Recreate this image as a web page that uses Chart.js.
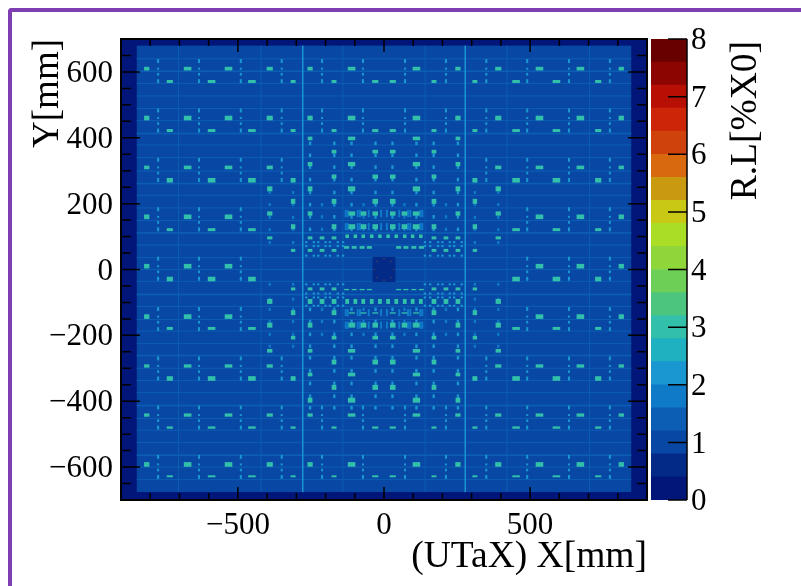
<!DOCTYPE html>
<html>
<head>
<meta charset="utf-8">
<script src="https://cdn.jsdelivr.net/npm/chart.js@4/dist/chart.umd.min.js"></script>
<style>
  html, body { margin: 0; padding: 0; background: #fff; overflow: hidden; }
  #frame { position: absolute; left: 8px; top: 8px; width: 800px; height: 600px; box-sizing: border-box;
           border-left: 4px solid #7d3fb2; border-top: 4px solid #7d3fb2; border-top-left-radius: 4px; }
  #mapWrap { position: absolute; left: 0; top: 0; width: 660px; height: 586px; }
  #barWrap { position: absolute; left: 651px; top: 0; width: 150px; height: 586px; }
  canvas { filter: blur(0.2px); }
</style>
</head>
<body>
<div id="frame"></div>
<div id="mapWrap"><canvas id="mapChart"></canvas></div>
<div id="barWrap"><canvas id="barChart"></canvas></div>
<script>
// colour bands of the z axis, bottom to top, 0.4 %X0 each
const zBandColors = ['#011678', '#042a88', '#0848a4', '#0c5eb4', '#0f7ac8', '#1a97d0', '#1fb1c0', '#33c0aa',
  '#4cc67e', '#6dcf55', '#8fd63a', '#aadd26', '#c8c815', '#c99a10', '#d8690f', '#d0420b',
  '#cc2508', '#b80f05', '#8c0500', '#690000'];
const zBandStep = 0.4;
const zTicks = [0, 1, 2, 3, 4, 5, 6, 7, 8];

const xMinorTicks = [-800, -700, -600, -400, -300, -200, -100, 100, 200, 300, 400, 600, 700, 800];
const xMajorTicks = [-500, 0, 500];
const yMinorTicks = [-650, -550, -500, -450, -350, -300, -250, -150, -100, -50, 50, 100, 150, 250, 300, 350, 450, 500, 550, 650];
const yMajorTicks = [-600, -400, -200, 0, 200, 400, 600];

// support lines, mm
const vLineFaintX = [703, 421, 141];
const vLineBrightX = [278];
const hLineFaintY = [640, 565, 527, 489, 452, 378, 340, 299, 225, 187, 149, 74, 36, 0, -36, -112, -152, -187, -225, -300, -337, -374, -452, -488, -525, -600, -638];
const hLineBrightY = [602, 413, 261, 111, -76, -261, -413, -564];

// module rows: upper rows and their lower partner rows
const upperRowY = [610, 460, 310, 160, 10, -143, -293, -442, -592];
const lowerRowY = [571, 422, 271, 121, -29, -179, -331, -480, -628];
const rowColumnCount = [6, 6, 4, 3, 3, 3, 4, 6, 6];
const upperRowH = [11, 14, 11, 14, 14, 14, 10, 10, 14];
const lowerRowH = [9, 9, 14, 9, 14, 9, 14, 7, 6];
const upperColX = [812, 672, 532, 391, 253, 111];
const upperColW = [18, 26, 26, 21, 18, 26];
const lowerColX = [733, 590, 452, 311, 171, 30];
const lowerColW = [21, 26, 26, 17, 17, 21];
const dashColX = [773, 633, 490, 350, 212, 72];
const dashOffsetY = [23, 0, -17, -38];
const dashH = [12, 6, 8, 12];

// central region rows, cells at +x and -x
const centreRowY = [398, 358, 320, 282, 245, 207, 170, 130, 96, 58, -59, -97, -131, -169, -207, -247, -281, -319, -358, -397];
const centreRowH = [11, 11, 13, 13, 15, 15, 13, 15, 9, 9, 9, 15, 15, 15, 11, 11, 15, 11, 15, 15];
const centreRowX = [[253, 111], [171, 30], [253, 111], [171, 30], [391, 253, 111], [311, 171, 30],
  [391, 253, 110, 70, 30], [311, 171, 110, 70, 30], [391, 253, 212, 171], [311, 253, 212, 171],
  [311, 253, 212, 171], [391, 253, 212, 171], [311, 171], [391, 253, 110, 70, 30], [311, 171, 30], [391, 253, 111],
  [171, 30], [253, 111], [171, 30], [253, 111]];
const centreColX = [391, 311, 253, 212, 171, 111, 110, 70, 30];
const centreColW = [18, 15, 16, 16, 16, 25, 23, 19, 19];

// rows hugging the beam hole
const beamRowUpperX = [126, 98, 71, 42, 14];
const beamThinX = [128, 102, 75, 50];
const beamThinLowerX = [110, 70, 30];

// small stubs under the central cells
const stubInnerY = [383, 347, 311, 273, 234, 197, 160, 122, -121, -158, -197, -233, -268, -308, -346, -385, -420];
const stubInnerX = [253, 170, 111, 29];
const stubExtraY = [197, 160, 122, -121, -158, -197];
const stubExtraX = [212, 70];
const stubOuterY = [234, 197, 158, 121, 82, -45, -90, -121, -158, -197, -233];
const stubOuterX = [391, 311];
const tallBarY = [170, 130, -131, -169];
const tallBarX = [131, 124, 90, 82, 52, 10];
const blipY = [83, 71, 42, -45, -73, -85, -110];
const blipX = [266, 240, 225, 200, 185, 158, 140];

// faint ring inside the beam hole
const ringX = [0, 24, 33, 24, 0, -24, -33, -24];
const ringY = [33, 24, 0, -24, -33, -24, 0, 24];

function mirrored(list, x, y, w, h, z) {
  list.push({ x: x, y: y, w: w, h: h, z: z });
  list.push({ x: -x, y: y, w: w, h: h, z: z });
}

const backgroundCells = [
  { x: 0, y: 0, w: 1800, h: 1400, z: 0.2 },
  { x: 0, y: 2, w: 1692, h: 1356, z: 1.0 }
];
const holeCells = [{ x: 0, y: 0, w: 78, h: 76, z: 0.6 }];

const lineCells = [];
vLineFaintX.forEach(x => mirrored(lineCells, x, 2, 3, 1356, 1.4));
hLineFaintY.forEach(y => lineCells.push({ x: 0, y: y, w: 1692, h: 3, z: 1.4 }));
hLineBrightY.forEach(y => lineCells.push({ x: 0, y: y, w: 1692, h: 5, z: 1.4 }));
vLineBrightX.forEach(x => mirrored(lineCells, x, 2, 5, 1356, 2.2));

const stubCells = [];
upperRowY.forEach((y, r) => {
  for (let c = 0; c < rowColumnCount[r]; c++) {
    dashOffsetY.forEach((d, i) => mirrored(stubCells, dashColX[c], y + d, 7, dashH[i], 2.2));
  }
});
stubInnerY.forEach(y => stubInnerX.forEach(x => mirrored(stubCells, x, y, 8, 11, 2.1)));
stubExtraY.forEach(y => stubExtraX.forEach(x => mirrored(stubCells, x, y, 8, 10, 1.7)));
stubOuterY.forEach(y => stubOuterX.forEach(x => mirrored(stubCells, x, y, 8, 9, 1.8)));
tallBarY.forEach(y => tallBarX.forEach(x => mirrored(stubCells, x, y, 7, 22, 1.9)));
blipY.forEach(y => blipX.forEach(x => mirrored(stubCells, x, y, 8, 6, 2.0)));

const moduleCells = [];
upperRowY.forEach((y, r) => {
  for (let c = 0; c < rowColumnCount[r]; c++) {
    mirrored(moduleCells, upperColX[c], y, upperColW[c], upperRowH[r], 3.0);
    mirrored(moduleCells, lowerColX[c], lowerRowY[r], lowerColW[c], lowerRowH[r], 3.0);
  }
});
centreRowY.forEach((y, r) => {
  centreRowX[r].forEach(x => {
    mirrored(moduleCells, x, y, centreColW[centreColX.indexOf(x)], centreRowH[r], 3.0);
  });
});
beamRowUpperX.forEach(x => {
  mirrored(moduleCells, x, 101, 12, 11, 3.0);
  mirrored(moduleCells, x, -97, 13, 15, 3.0);
});
beamThinX.forEach(x => {
  mirrored(moduleCells, x, 67, 17, 8, 3.0);
  mirrored(moduleCells, x, -61, 17, 4, 3.0);
});
beamThinLowerX.forEach(x => mirrored(moduleCells, x, -132, 20, 4, 3.0));

const ringCells = ringX.map((x, i) => ({ x: x, y: ringY[i], w: 5, h: 4, z: 5.8 }));

function minusLabel(v) {
  return String(v).replace('-', '\u2212');
}

// draws the dataset's cells through the chart scales
const cellPlugin = {
  id: 'cellPlugin',
  beforeDatasetDraw(chart, args) {
    const ds = chart.data.datasets[args.index];
    const ctx = chart.ctx;
    const xs = chart.scales.x, ys = chart.scales.y;
    ctx.save();
    ctx.globalAlpha = ds.cellAlpha || 1;
    ds.data.forEach(c => {
      const x0 = xs.getPixelForValue(c.x - c.w / 2), x1 = xs.getPixelForValue(c.x + c.w / 2);
      const y0 = ys.getPixelForValue(c.y + c.h / 2), y1 = ys.getPixelForValue(c.y - c.h / 2);
      ctx.fillStyle = zBandColors[Math.floor(c.z / zBandStep)];
      ctx.fillRect(x0, y0, x1 - x0, y1 - y0);
    });
    ctx.restore();
  }
};

// ROOT style inward ticks and frame
const framePlugin = {
  id: 'framePlugin',
  afterDraw(chart) {
    const ctx = chart.ctx, a = chart.chartArea;
    const xs = chart.scales.x, ys = chart.scales.y;
    ctx.save();
    ctx.strokeStyle = '#000';
    ctx.lineWidth = 1.5;
    ctx.beginPath();
    function xTick(v, len) {
      const p = xs.getPixelForValue(v);
      ctx.moveTo(p, a.top); ctx.lineTo(p, a.top + len);
      ctx.moveTo(p, a.bottom); ctx.lineTo(p, a.bottom - len);
    }
    function yTick(v, len) {
      const p = ys.getPixelForValue(v);
      ctx.moveTo(a.left, p); ctx.lineTo(a.left + len, p);
      ctx.moveTo(a.right, p); ctx.lineTo(a.right - len, p);
    }
    xMinorTicks.forEach(v => xTick(v, 7));
    xMajorTicks.forEach(v => xTick(v, 13));
    yMinorTicks.forEach(v => yTick(v, 10));
    yMajorTicks.forEach(v => yTick(v, 19));
    ctx.stroke();
    ctx.lineWidth = 2;
    ctx.strokeRect(a.left, a.top, a.right - a.left, a.bottom - a.top);
    ctx.restore();
  }
};

const serif = '"Liberation Serif", serif';

// chart.js paints the last dataset first, so background goes last
new Chart(document.getElementById('mapChart'), {
  type: 'scatter',
  plugins: [cellPlugin, framePlugin],
  data: {
    datasets: [
      { label: 'ring', data: ringCells, pointRadius: 0, cellAlpha: 0.3 },
      { label: 'hole', data: holeCells, pointRadius: 0 },
      { label: 'modules', data: moduleCells, pointRadius: 0 },
      { label: 'stubs', data: stubCells, pointRadius: 0 },
      { label: 'lines', data: lineCells, pointRadius: 0 },
      { label: 'outside', data: backgroundCells, pointRadius: 0 }
    ]
  },
  options: {
    responsive: true,
    maintainAspectRatio: false,
    animation: false,
    layout: { padding: { top: 39, right: 13, left: 0, bottom: 0 } },
    plugins: { legend: { display: false }, tooltip: { enabled: false } },
    scales: {
      x: {
        type: 'linear', min: -900, max: 900,
        grid: { display: false, drawTicks: false },
        border: { display: false },
        afterBuildTicks(scale) { scale.ticks = xMajorTicks.map(v => ({ value: v })); },
        ticks: { autoSkip: false, maxRotation: 0, color: '#000', padding: 7,
          font: { family: serif, size: 31 }, callback: minusLabel },
        title: { display: true, text: '(UTaX) X[mm]', align: 'end', color: '#000',
          font: { family: serif, size: 37.5 }, padding: { top: 0, bottom: 6 } },
        afterFit(scale) { scale.height = 86; }
      },
      y: {
        type: 'linear', min: -700, max: 700,
        grid: { display: false, drawTicks: false },
        border: { display: false },
        afterBuildTicks(scale) { scale.ticks = yMajorTicks.map(v => ({ value: v })); },
        ticks: { autoSkip: false, color: '#000', padding: 8, labelOffset: 2,
          font: { family: serif, size: 31 }, callback: minusLabel },
        title: { display: true, text: 'Y[mm]', align: 'end', color: '#000',
          font: { family: serif, size: 37 }, padding: { top: 26, bottom: 0 } },
        afterFit(scale) { scale.width = 121; }
      }
    }
  }
});

// colour bar, one floating bar per band
const bandLabels = zBandColors.map((c, i) => i);
const bandRanges = zBandColors.map((c, i) => [i * zBandStep, (i + 1) * zBandStep]);

const barPlugin = {
  id: 'barPlugin',
  afterDraw(chart) {
    const ctx = chart.ctx, a = chart.chartArea, ys = chart.scales.y;
    ctx.save();
    ctx.strokeStyle = '#000';
    ctx.lineWidth = 1.5;
    ctx.beginPath();
    zTicks.forEach(v => {
      const p = ys.getPixelForValue(v);
      ctx.moveTo(a.right, p); ctx.lineTo(a.right - 19, p);
    });
    ctx.moveTo(a.right, a.top); ctx.lineTo(a.right, a.bottom);
    ctx.stroke();
    ctx.fillStyle = '#000';
    ctx.font = '37.5px ' + serif;
    ctx.textAlign = 'right';
    ctx.textBaseline = 'middle';
    ctx.translate(95, a.top);
    ctx.rotate(-Math.PI / 2);
    ctx.fillText('R.L[%X0]', -2, 0);
    ctx.restore();
  }
};

new Chart(document.getElementById('barChart'), {
  type: 'bar',
  plugins: [barPlugin],
  data: {
    labels: ['R.L'],
    datasets: bandRanges.map((r, i) => ({
      label: String(bandLabels[i]),
      data: [r],
      backgroundColor: zBandColors[i],
      barPercentage: 1,
      categoryPercentage: 1,
      grouped: false
    }))
  },
  options: {
    responsive: true,
    maintainAspectRatio: false,
    animation: false,
    layout: { padding: { top: 39, bottom: 86, left: 0, right: 0 } },
    plugins: { legend: { display: false }, tooltip: { enabled: false } },
    scales: {
      x: { display: false },
      y: {
        position: 'right', min: 0, max: 8,
        grid: { display: false, drawTicks: false },
        border: { display: false },
        ticks: { stepSize: 1, color: '#000', padding: 4, labelOffset: 2, font: { family: serif, size: 31 } },
        afterFit(scale) { scale.width = 114; }
      }
    }
  }
});
</script>
</body>
</html>
